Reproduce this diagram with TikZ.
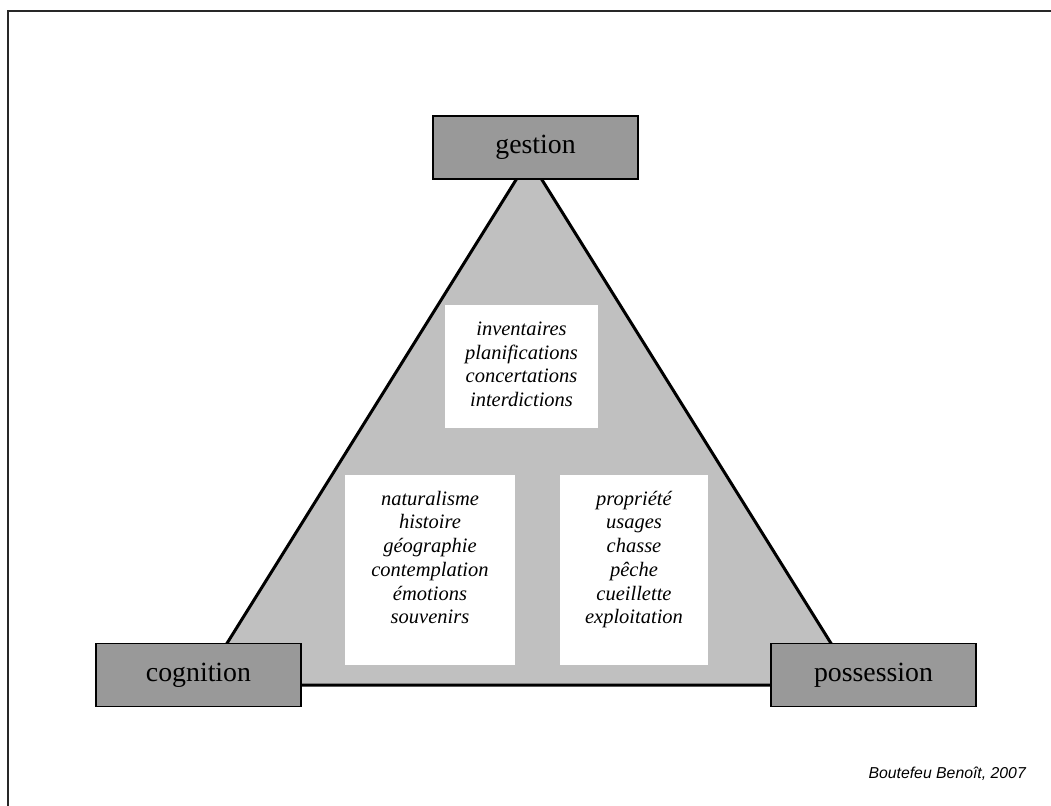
\documentclass[tikz,border=0pt]{standalone}
\usepackage{fontspec}
\setmainfont{Liberation Serif}
\newfontfamily\credfont{Liberation Sans}
\definecolor{trigrey}{RGB}{192,192,192}
\definecolor{boxgrey}{RGB}{153,153,153}
\definecolor{framegrey}{RGB}{40,40,40}
\begin{document}
\begin{tikzpicture}[x=1pt,y=-1pt,
  termbox/.style={draw=black, line width=1.5pt, fill=boxgrey, minimum width=205pt, minimum height=63pt, inner sep=0pt, font=\fontsize{27.8}{30}\selectfont},
  listbox/.style={fill=white, draw=none, inner sep=0pt},
  listtext/.style={anchor=north, align=center, inner sep=0pt, font=\itshape\fontsize{20.5}{23.7}\selectfont}]
\useasboundingbox (0,0) rectangle (1051,805);
% frame (only top and left edges visible)
\draw[line width=2pt, framegrey] (8,820) -- (8,11) -- (1065,11);
% triangle
\coordinate (A) at (529,159);
\coordinate (B) at (201,685);
\coordinate (C) at (857,685);
\filldraw[fill=trigrey, draw=black, line width=3pt, line join=miter] (A) -- (B) -- (C) -- cycle;
% white list boxes
\node[listbox, minimum width=153pt, minimum height=123pt] (invbox) at (521.5,366.5) {};
\node[listbox, minimum width=170pt, minimum height=190pt] (natbox) at (430,570) {};
\node[listbox, minimum width=148pt, minimum height=190pt] (probox) at (634,570) {};
\node[listtext] (invtext) at ([yshift=-17pt]invbox.north) {inventaires\\planifications\\concertations\\interdictions};
\node[listtext] (nattext) at ([yshift=-16pt]natbox.north) {naturalisme\\histoire\\géographie\\contemplation\\émotions\\souvenirs};
\node[listtext] (protext) at ([yshift=-16pt]probox.north) {propriété\\usages\\chasse\\pêche\\cueillette\\exploitation};
% term boxes
\node[termbox] (gestion) at (535.5,147.5) {gestion};
\node[termbox] (cognition) at (198.5,675) {cognition};
\node[termbox] (possession) at (873.5,675) {possession};
% credit
\node[anchor=base east, inner sep=0pt, font=\credfont\itshape\fontsize{15.8}{18}\selectfont] (credit) at (1026,778) {Boutefeu Benoît, 2007};
\end{tikzpicture}
\end{document}
